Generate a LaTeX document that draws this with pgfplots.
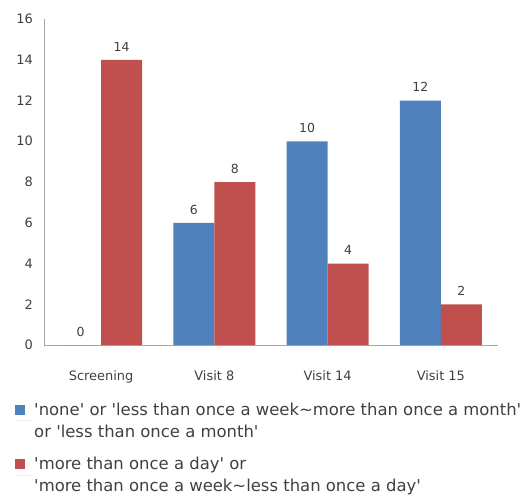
\documentclass[border=0pt]{standalone}
\usepackage{fontspec}
\setmainfont{DejaVu Sans}
\usepackage{pgfplots}
\pgfplotsset{compat=1.18}
\definecolor{cblue}{HTML}{4F81BD}
\definecolor{cred}{HTML}{C0504D}
\definecolor{tgray}{HTML}{404040}
\newcommand\q{\textquotesingle}
\begin{document}
\begin{tikzpicture}
\begin{axis}[
  name=ax,
  scale only axis,
  width=453bp, height=326bp,
  xmin=-0.5, xmax=3.5, ymin=0, ymax=16,
  ybar=0pt, bar width=41bp,
  axis x line=bottom, axis y line=left,
  axis line style={draw=gray!70, -},
  xtick=data, xticklabels={Screening,Visit 8,Visit 14,Visit 15},
  ytick={0,2,...,16},
  major tick length=0pt,
  /pgf/number format/assume math mode=true,
  ticklabel style={font=\fontsize{13}{15}\selectfont, text=tgray},
  yticklabel style={xshift=-8bp},
  xticklabel style={yshift=-22bp},
  nodes near coords,
  every node near coord/.append style={font=\fontsize{12.5}{15}\selectfont, text=tgray, yshift=5bp},
  legend style={at={(-0.065,-0.17)}, anchor=north west, draw=none, fill=none,
    font=\fontsize{16.5}{22}\selectfont, text=tgray,
    cells={align=left, anchor=west}, row sep=15bp, inner sep=0pt},
  legend cell align=left,
  legend image code/.code={\fill[#1,draw=none] (0bp,6bp) rectangle (10bp,16bp);\path (0bp,0bp) -- (17bp,0bp);},
]
\addplot[fill=cblue, draw=none] coordinates {(0,0) (1,6) (2,10) (3,12)};
\addplot[fill=cred, draw=none] coordinates {(0,14) (1,8) (2,4) (3,2)};
\addlegendentry{\q none\q{} or \q less than once a week\textasciitilde more than once a month\q\\or \q less than once a month\q}
\addlegendentry{\q more than once a day\q{} or\\\q more than once a week\textasciitilde less than once a day\q}
\end{axis}
\pgfresetboundingbox
\path[use as bounding box] ([xshift=-44.5bp,yshift=-153bp]ax.south west) rectangle ([xshift=32.5bp,yshift=19bp]ax.north east);
\end{tikzpicture}
\end{document}
